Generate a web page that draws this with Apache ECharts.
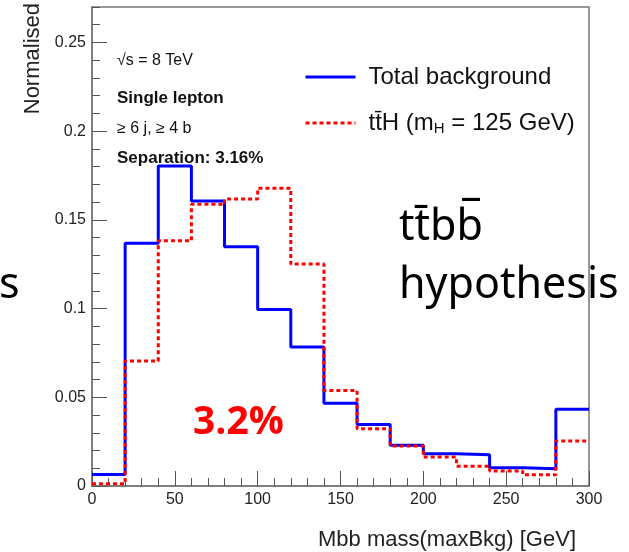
<!DOCTYPE html>
<html>
<head>
<meta charset="utf-8">
<script src="https://cdn.jsdelivr.net/npm/echarts@6/dist/echarts.min.js"></script>
<style>html,body{margin:0;padding:0;background:#fff}#c{width:629px;height:552px}</style>
</head>
<body>
<div id="c"></div>
<script>
const binEdges = [0,20,40,60,80,100,120,140,160,180,200,220,240,260,280,300];
const background = [0.0065,0.1368,0.1804,0.1606,0.1348,0.0995,0.0784,0.0467,0.0346,0.0229,0.0182,0.0176,0.0103,0.0097,0.0432];
const ttH = [0.0012,0.0705,0.1382,0.1588,0.1618,0.1678,0.1251,0.0539,0.0323,0.0225,0.0163,0.0112,0.0084,0.0063,0.0253];
const yTicks = [0,0.05,0.1,0.15,0.2,0.25];
const xTicks = [0,50,100,150,200,250,300];
const seriesNames = ['Total background','tt\u0304H (mH = 125 GeV)'];

function steps(vals){
  return binEdges.map((e,i)=>[e, vals[Math.min(i, vals.length-1)]]);
}
const ROOTFONT = 'Liberation Sans';
const axisGray = '#777';
const chart = echarts.init(document.getElementById('c'), null, {renderer:'canvas'});
chart.setOption({
  animation:false,
  backgroundColor:'#fff',
  grid:{left:92,right:40,top:7,bottom:66,show:true,borderColor:axisGray,borderWidth:1.5,backgroundColor:'transparent'},
  xAxis:{
    type:'value',min:0,max:300,interval:50,
    name:'Mbb mass(maxBkg) [GeV]',nameLocation:'end',nameGap:-13,
    nameTextStyle:{fontFamily:ROOTFONT,fontSize:22,color:'#222',align:'right',verticalAlign:'top',padding:[43,0,0,0]},
    axisLine:{lineStyle:{color:axisGray,width:1.5}},
    axisTick:{inside:true,length:15,lineStyle:{color:'#555'}},
    minorTick:{show:true,splitNumber:5,length:8,lineStyle:{color:'#555'}},
    axisLabel:{fontFamily:ROOTFONT,fontSize:16,color:'#222',margin:6,customValues:xTicks},
    splitLine:{show:false}
  },
  yAxis:[{
    type:'value',min:0,max:0.27,interval:0.01,
    name:'Normalised',nameLocation:'end',nameRotate:90,nameGap:4,
    nameTextStyle:{fontFamily:ROOTFONT,fontSize:22,color:'#222',align:'right',verticalAlign:'bottom',padding:[0,0,48,0]},
    axisLine:{show:true,lineStyle:{color:axisGray,width:1.5}},
    axisTick:{inside:true,length:8,lineStyle:{color:'#555'}},
    axisLabel:{fontFamily:ROOTFONT,fontSize:16,color:'#222',margin:6,customValues:yTicks},
    splitLine:{show:false}
  },{
    type:'value',min:0,max:0.27,interval:0.05,position:'left',
    axisLine:{show:false},
    axisTick:{inside:true,length:15,customValues:yTicks,lineStyle:{color:'#555'}},
    axisLabel:{show:false},
    splitLine:{show:false}
  }],
  legend:{
    orient:'vertical',left:299,top:59,itemWidth:50,itemHeight:14,itemGap:20,
    data:seriesNames,
    itemStyle:{color:'rgba(0,0,0,0)',borderWidth:0,opacity:0},
    lineStyle:{width:3},
    textStyle:{fontFamily:ROOTFONT,fontSize:24,color:'#111',lineHeight:26,padding:[0,0,0,8],
      rich:{sub:{fontFamily:ROOTFONT,fontSize:15,color:'#111',padding:[12,0,0,0]}}},
    formatter:function(n){ return n===seriesNames[1] ? 'tt\u0304H (m{sub|H} = 125 GeV)' : n; }
  },
  series:[{
    name:seriesNames[0],type:'line',step:'end',symbol:'none',
    data:steps(background),
    lineStyle:{color:'#0000ff',width:3},itemStyle:{color:'#0000ff'}
  },{
    name:seriesNames[1],type:'line',step:'end',symbol:'none',
    data:steps(ttH),
    lineStyle:{color:'#ff0000',width:3,type:[4,3]},itemStyle:{color:'#ff0000'}
  }],
  graphic:[
    {type:'text',x:117,y:61,style:{text:'\u221As = 8 TeV',font:'16px "Liberation Sans"',fill:'#111',verticalAlign:'middle'}},
    {type:'text',x:117,y:98,style:{text:'Single lepton',font:'bold 17px "Liberation Sans"',fill:'#111',verticalAlign:'middle'}},
    {type:'text',x:117,y:129,style:{text:'\u2265 6 j, \u2265 4 b',font:'16px "Liberation Sans"',fill:'#111',verticalAlign:'middle'}},
    {type:'text',x:117,y:158,style:{text:'Separation: 3.16%',font:'bold 17px "Liberation Sans"',fill:'#111',verticalAlign:'middle'}},
    {type:'text',x:399,y:228,style:{text:'tt\u0304bb\u0305',font:'43px "Noto Sans"',fill:'#000',verticalAlign:'middle'}},
    {type:'text',x:399,y:286,style:{text:'hypothesis',font:'43px "Noto Sans"',fill:'#000',verticalAlign:'middle'}},
    {type:'text',x:-1,y:286,style:{text:'s',font:'43px "Noto Sans"',fill:'#000',verticalAlign:'middle'}},
    {type:'text',x:193,y:423,style:{text:'3.2%',font:'bold 39px "Open Sans"',fill:'#ff0000',verticalAlign:'middle'}}
  ]
});
</script>
</body>
</html>
